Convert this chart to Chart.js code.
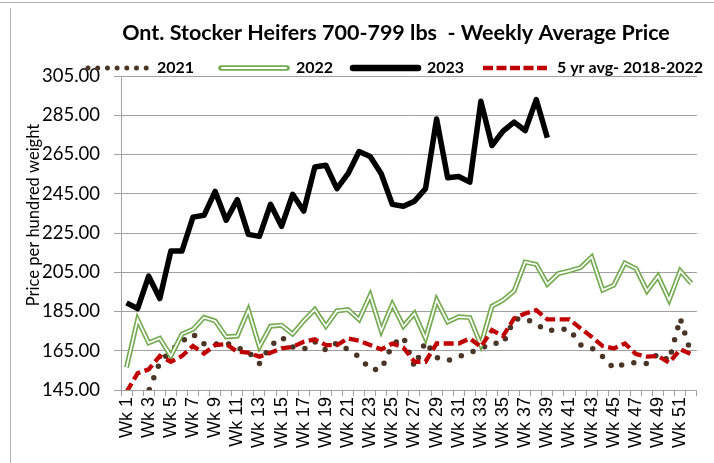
<!DOCTYPE html>
<html>
<head>
<meta charset="utf-8">
<script src="https://cdn.jsdelivr.net/npm/chart.js@4/dist/chart.umd.min.js"></script>
<style>
  html, body { margin: 0; padding: 0; background: #fff; }
  #wrap { width: 714px; height: 463px; }
</style>
</head>
<body>
<div id="wrap"><canvas id="chart" width="714" height="463"></canvas></div>
<script>
const weeks = [];
for (let i = 1; i <= 52; i++) weeks.push('Wk ' + i);

const y2021 = [141, 142, 144.5, 159, 164.9, 169.8, 173.5, 168.5, 168.3, 169, 166.5, 164.5, 158.5,
  167.5, 172, 167, 165.7, 169.6, 165.3, 169, 165.5, 162, 155.5, 155.5, 168, 172, 157, 169.6,
  161.5, 160, 162, 164, 166, 169, 168.5, 181, 181.5, 178.5, 175, 176, 176, 168, 166.5, 162,
  156, 158.5, 159, 158.5, 163.5, 160, 181.5, 163.3];

const y2022 = [156.5, 180.9, 169, 171.3, 162.3, 173.5, 175.9, 182, 180.2, 172.1, 172.5, 185.7,
  167, 177.5, 178, 173.5, 180.2, 186, 177.5, 185.3, 186, 180.9, 193.3, 175.2, 188.7, 177.5,
  184, 171.3, 190.8, 179.7, 182.3, 181.9, 167.9, 187.7, 190.8, 195.5, 210.2, 209, 198.9,
  204.3, 205.7, 207.4, 212.8, 195.9, 198.4, 209.7, 206.9, 195.5, 203, 190.8, 205.7, 199.3];

const y2023 = [189.4, 186.5, 203, 191.6, 215.8, 215.8, 233.1, 234, 246.2, 231.5, 242, 224.3,
  223.3, 239.6, 228.4, 244.7, 236.2, 258.6, 259.5, 247.6, 255.2, 266.5, 264, 255.2, 239.6,
  238.6, 241.2, 247.6, 283.1, 253.1, 253.8, 250.9, 292.1, 269.6, 276.9, 281.5, 277.2, 293, 273.5];

const avg5yr = [144, 153.5, 155.5, 162.3, 159.4, 162.3, 167.4, 163.6, 167.9, 168.4, 164.5, 164,
  162, 164, 166.2, 167, 169.6, 170.8, 167.9, 167.9, 171.3, 170.1, 167.9, 165.7, 168.7, 166.6,
  159.4, 159.4, 168.7, 168.7, 168.7, 171.3, 167, 175.5, 172.5, 181.5, 184, 185.7, 181, 181,
  181, 176.4, 172.1, 167.4, 166.2, 168.7, 163.3, 162, 162.3, 158.9, 165.7, 163.3];

const yTicks = [145, 165, 185, 205, 225, 245, 265, 285, 305];

const TITLE = 'Ont. Stocker Heifers 700-799 lbs  - Weekly Average Price';
const Y_TITLE = 'Price per hundred weight';

const BROWN = '#4b3526';
const GREEN = '#74aa50';
const RED = '#c00000';
const GRID = '#a0a0a0';

// title, axis title, legend and frame
const deco = {
  id: 'deco',
  afterDraw(chart) {
    const ctx = chart.ctx;
    ctx.save();

    ctx.strokeStyle = '#b4b4b4';
    ctx.lineWidth = 1;
    ctx.beginPath();
    ctx.moveTo(0, 2.5); ctx.lineTo(714, 2.5);
    ctx.moveTo(10.5, 8); ctx.lineTo(10.5, 463);
    ctx.stroke();

    ctx.fillStyle = '#000';
    ctx.textBaseline = 'middle';
    ctx.textAlign = 'center';
    ctx.font = 'bold 21.5px Lato';
    ctx.fillText(TITLE, 396, 33);

    ctx.save();
    ctx.translate(34, 215);
    ctx.rotate(-Math.PI / 2);
    ctx.font = '16.5px Lato';
    ctx.fillText(Y_TITLE, 0, 0);
    ctx.restore();

    const ly = 68;
    ctx.lineCap = 'round';
    // 2021
    ctx.strokeStyle = BROWN;
    ctx.lineWidth = 5;
    ctx.setLineDash([0, 9.7]);
    ctx.beginPath(); ctx.moveTo(88, ly); ctx.lineTo(147, ly); ctx.stroke();
    ctx.setLineDash([]);
    // 2022
    ctx.strokeStyle = GREEN;
    ctx.lineWidth = 5.5;
    ctx.beginPath(); ctx.moveTo(221, ly); ctx.lineTo(287, ly); ctx.stroke();
    ctx.strokeStyle = '#fff';
    ctx.lineWidth = 2;
    ctx.beginPath(); ctx.moveTo(222, ly); ctx.lineTo(286, ly); ctx.stroke();
    // 2023
    ctx.strokeStyle = '#000';
    ctx.lineWidth = 6.5;
    ctx.beginPath(); ctx.moveTo(353, ly); ctx.lineTo(418, ly); ctx.stroke();
    // 5 yr
    ctx.lineCap = 'butt';
    ctx.strokeStyle = RED;
    ctx.lineWidth = 4.5;
    ctx.setLineDash([10, 3.5]);
    ctx.beginPath(); ctx.moveTo(483, ly); ctx.lineTo(547, ly); ctx.stroke();
    ctx.setLineDash([]);

    ctx.textAlign = 'left';
    ctx.font = 'bold 16px Lato';
    ctx.fillStyle = '#000';
    ctx.fillText('2021', 157, ly);
    ctx.fillText('2022', 296, ly);
    ctx.fillText('2023', 427, ly);
    ctx.fillText('5 yr avg- 2018-2022', 557, ly);

    ctx.restore();
  }
};

new Chart(document.getElementById('chart'), {
  type: 'line',
  data: {
    labels: weeks,
    datasets: [
      { label: '5 yr avg- 2018-2022', data: avg5yr, borderColor: RED, borderWidth: 4.3,
        borderDash: [10, 4.5], order: 1 },
      { label: '2023', data: y2023, borderColor: '#000', borderWidth: 5.5,
        borderJoinStyle: 'round', order: 2 },
      { label: '2022 inner', data: y2022, borderColor: '#fff', borderWidth: 1.7, order: 3 },
      { label: '2022', data: y2022, borderColor: GREEN, borderWidth: 5, order: 4 },
      { label: '2021', data: y2021, borderColor: BROWN, borderWidth: 5.5,
        borderDash: [0, 12.5], borderCapStyle: 'round', order: 5 }
    ]
  },
  options: {
    responsive: false,
    animation: false,
    devicePixelRatio: 1,
    elements: { point: { radius: 0 }, line: { tension: 0, fill: false } },
    layout: { padding: { top: 76, right: 11, bottom: 0, left: 0 } },
    plugins: { legend: { display: false }, tooltip: { enabled: false } },
    scales: {
      x: {
        offset: true,
        grid: { offset: true, drawOnChartArea: false, tickLength: 6, color: GRID },
        border: { color: GRID },
        ticks: {
          autoSkip: false, maxRotation: 90, minRotation: 90, padding: 1,
          color: '#000', font: { family: 'Liberation Sans', size: 18 },
          callback: (v, i) => (i % 2 === 0 ? weeks[i] : '')
        },
        afterFit: s => { s.height = 73; }
      },
      y: {
        min: yTicks[0],
        max: yTicks[yTicks.length - 1],
        grid: { color: GRID, tickLength: 7 },
        border: { color: GRID },
        ticks: {
          stepSize: 20, padding: 14, color: '#000',
          font: { family: 'Lato', size: 18.5 },
          callback: v => v.toFixed(2)
        },
        afterFit: s => { s.width = 121; }
      }
    }
  },
  plugins: [deco]
});
</script>
</body>
</html>
